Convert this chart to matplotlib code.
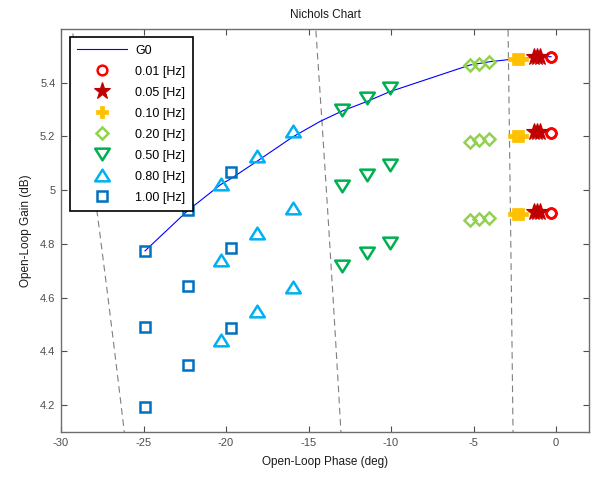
import numpy as np
import matplotlib
matplotlib.use("Agg")
import matplotlib.pyplot as plt
from matplotlib.path import Path

plt.rcParams['font.family'] = ['Liberation Sans', 'DejaVu Sans']
plt.rcParams['axes.unicode_minus'] = False

# ---- data ----
# G0 frequency response (phase deg, gain dB)
g0_phase = [-24.91, -22.3, -20.32, -19.7, -18.14, -15.96, -14.3, -12.95,
            -11.47, -10.06, -5.21, -4.04, -2.3, -1.15, -0.3]
g0_gain = [4.774, 4.925, 5.021, 5.043, 5.107, 5.198, 5.256, 5.295,
           5.33, 5.367, 5.466, 5.478, 5.49, 5.495, 5.497]

freq_labels = ['0.01 [Hz]', '0.05 [Hz]', '0.10 [Hz]', '0.20 [Hz]',
               '0.50 [Hz]', '0.80 [Hz]', '1.00 [Hz]']

# phase of the three samples at each frequency
freq_phase = [
    [-0.32, -0.30, -0.28],
    [-1.35, -1.15, -0.95],
    [-2.55, -2.30, -2.05],
    [-5.21, -4.65, -4.04],
    [-12.95, -11.47, -10.06],
    [-20.32, -18.14, -15.96],
    [-24.91, -22.30, -19.70],
]
# gain for the upper, middle and lower groups
gain_upper = [
    [5.495, 5.495, 5.495],
    [5.495, 5.495, 5.495],
    [5.488, 5.488, 5.488],
    [5.466, 5.469, 5.478],
    [5.299, 5.342, 5.379],
    [5.024, 5.126, 5.219],
    [4.774, 4.925, 5.067],
]
gain_middle = [
    [5.212, 5.212, 5.212],
    [5.216, 5.216, 5.216],
    [5.203, 5.203, 5.203],
    [5.181, 5.185, 5.191],
    [5.017, 5.058, 5.095],
    [4.740, 4.842, 4.934],
    [4.490, 4.644, 4.784],
]
gain_lower = [
    [4.916, 4.916, 4.916],
    [4.920, 4.920, 4.920],
    [4.912, 4.912, 4.912],
    [4.888, 4.893, 4.897],
    [4.719, 4.768, 4.803],
    [4.444, 4.549, 4.638],
    [4.194, 4.348, 4.488],
]

# closed-loop phase contours (deg)
cl_phase = [-1, -5, -10]

# ---- styles ----
tri_up = Path([(0, 0.8), (-1, -0.8), (1, -0.8), (0, 0.8)], closed=True)
tri_dn = Path([(0, -0.8), (-1, 0.8), (1, 0.8), (0, -0.8)], closed=True)
styles = [
    dict(marker='o', ms=7, mfc='none', mec='#FF0000', mew=1.8),
    dict(marker='*', ms=12.5, mfc='#C00000', mec='#C00000', mew=0.8),
    dict(marker='P', ms=8, mfc='#FFC000', mec='#FFC000', mew=0.5),
    dict(marker='D', ms=6.3, mfc='none', mec='#92D050', mew=1.8),
    dict(marker=tri_dn, ms=10.5, mfc='none', mec='#00B050', mew=1.8),
    dict(marker=tri_up, ms=10.5, mfc='none', mec='#00B0F0', mew=1.8),
    dict(marker='s', ms=7.5, mfc='none', mec='#0070C0', mew=1.8),
]

fig = plt.figure(figsize=(5.94, 4.8), dpi=100)
ax = fig.add_axes([61 / 594, 48 / 480, 528 / 594, 403 / 480])

xlim = (-30, 2)
ylim = (4.1, 5.6)

# Nichols grid: closed-loop phase contours
r = np.linspace(0.45, 0.8, 400)
for psi in cl_phase:
    T = r * np.exp(1j * np.deg2rad(psi))
    L = T / (1 - T)
    ax.plot(np.rad2deg(np.angle(L)), 20 * np.log10(np.abs(L)),
            color='#7f7f7f', lw=0.8, ls=(0, (6, 4)), zorder=1)

ax.plot(g0_phase, g0_gain, color='#0000FF', lw=0.8, label='G0', zorder=2)

for k, lab in enumerate(freq_labels):
    for j, rows in enumerate([gain_upper, gain_middle, gain_lower]):
        ax.plot(freq_phase[k], rows[k], ls='none', zorder=3,
                label=lab if j == 0 else None, **styles[k])

ax.set_xlim(*xlim)
ax.set_ylim(*ylim)
ax.set_xticks(np.arange(-30, 1, 5))
ax.set_yticks([4.2, 4.4, 4.6, 4.8, 5.0, 5.2, 5.4])
ax.yaxis.set_major_formatter(matplotlib.ticker.FormatStrFormatter('%g'))
ax.tick_params(direction='in', length=4.5, width=0.8, colors='#4d4d4d',
               labelsize=8, top=True, right=True, pad=4)
for s in ax.spines.values():
    s.set_color('#6e6e6e')
    s.set_linewidth(1.0)

ax.set_xlabel('Open-Loop Phase (deg)', fontsize=8.5, color='#1a1a1a', labelpad=6)
ax.set_ylabel('Open-Loop Gain (dB)', fontsize=8.5, color='#1a1a1a', labelpad=6)
ax.set_title('Nichols Chart', fontsize=8.5, color='#1a1a1a', pad=8)

leg = ax.legend(loc='upper left', bbox_to_anchor=(0.017, 0.98), borderaxespad=0,
                fontsize=9, numpoints=1, handlelength=4.0, handletextpad=0.6,
                labelspacing=0.72, borderpad=0.6, fancybox=False, framealpha=1)
leg.get_frame().set_edgecolor('black')
leg.get_frame().set_linewidth(1.2)

fig.savefig('out.png', dpi=100)
